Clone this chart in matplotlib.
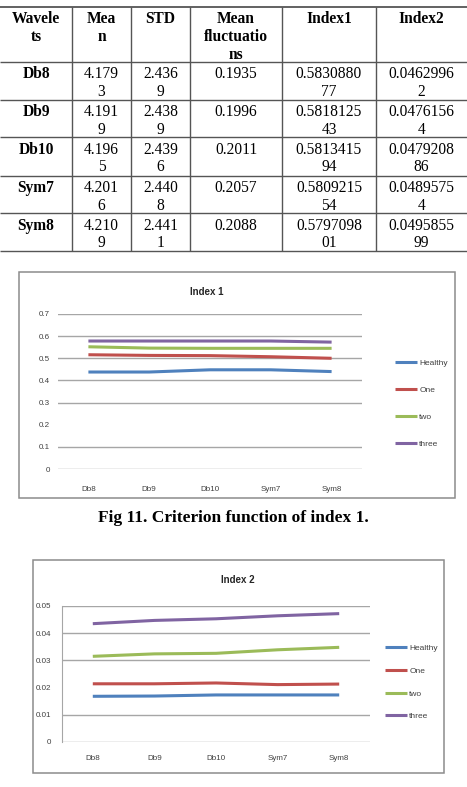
import matplotlib
matplotlib.use('Agg')
import matplotlib.pyplot as plt
from matplotlib.patches import Rectangle

# ---------------- data ----------------
wavelets = ['Db8', 'Db9', 'Db10', 'Sym7', 'Sym8']
mean_vals = ['4.1793', '4.1919', '4.1965', '4.2016', '4.2109']
std_vals = ['2.4369', '2.4389', '2.4396', '2.4408', '2.4411']
mean_fluct = ['0.1935', '0.1996', '0.2011', '0.2057', '0.2088']
index1_vals = ['0.583088077', '0.581812543', '0.581341594', '0.580921554', '0.579709801']
index2_vals = ['0.04629962', '0.04761564', '0.047920886', '0.04895754', '0.049585599']
headers = ['Wavele\nts', 'Mea\nn', 'STD', 'Mean\nfluctuatio\nns', 'Index1', 'Index2']
wrap_at = [None, 5, 5, None, 9, 9]

groups = ['Healthy', 'One', 'two', 'three']
colors = ['#4F81BD', '#C0504D', '#9BBB59', '#8064A2']

idx1_healthy = [0.438, 0.438, 0.448, 0.448, 0.440]
idx1_one = [0.516, 0.513, 0.512, 0.507, 0.500]
idx1_two = [0.552, 0.546, 0.545, 0.545, 0.545]
idx1_three = [0.578, 0.578, 0.578, 0.578, 0.573]

idx2_healthy = [0.0168, 0.0169, 0.0173, 0.0173, 0.0173]
idx2_one = [0.0214, 0.0214, 0.0217, 0.0211, 0.0213]
idx2_two = [0.0315, 0.0324, 0.0326, 0.0339, 0.0348]
idx2_three = [0.0435, 0.0447, 0.0453, 0.0464, 0.0472]

yticks1 = [0, 0.1, 0.2, 0.3, 0.4, 0.5, 0.6, 0.7]
grid1 = [0, 0.1, 0.3, 0.4, 0.5, 0.6, 0.7]
yticks2 = [0, 0.01, 0.02, 0.03, 0.04, 0.05]
grid2 = [0, 0.01, 0.03, 0.04, 0.05]

caption1 = 'Fig 11. Criterion function of index 1.'

# ---------------- figure ----------------
W, H = 467, 787
fig = plt.figure(figsize=(W / 100, H / 100), dpi=100)
bg = fig.add_axes([0, 0, 1, 1])
bg.set_xlim(0, W)
bg.set_ylim(H, 0)
bg.axis('off')

serif = ['Liberation Serif', 'DejaVu Serif']
sans = ['Liberation Sans Narrow', 'Liberation Sans', 'DejaVu Sans']

# ---- table ----
col_edges = [0, 72, 131, 190, 282, 376, 467]
row_edges = [7, 62, 100, 137, 176, 213, 251]
line_c = '#555555'
for y in row_edges:
    bg.plot([0, W], [y, y], color=line_c, lw=1.3 if y == 7 else 1.0, solid_capstyle='butt')
for x in col_edges[1:-1]:
    bg.plot([x, x], [7, 251], color=line_c, lw=1.0, solid_capstyle='butt')

def wrap(s, n):
    if n is None:
        return s
    return '\n'.join(s[i:i + n] for i in range(0, len(s), n))

tfs = 11.2
for j, htxt in enumerate(headers):
    cx = (col_edges[j] + col_edges[j + 1]) / 2
    bg.text(cx, row_edges[0] + 4, htxt, ha='center', va='top', fontsize=tfs,
            fontweight='bold', family=serif, linespacing=1.15)

columns = [wavelets, mean_vals, std_vals, mean_fluct, index1_vals, index2_vals]
for i in range(len(wavelets)):
    top = row_edges[i + 1]
    for j, col in enumerate(columns):
        cx = (col_edges[j] + col_edges[j + 1]) / 2
        bg.text(cx, top + 4.5, wrap(col[i], wrap_at[j]), ha='center', va='top',
                fontsize=tfs, family=serif, linespacing=1.15,
                fontweight='bold' if j == 0 else 'normal')

# ---- chart boxes ----
box_c = '#8c8c8c'
bg.add_patch(Rectangle((19, 272), 436, 226, fill=False, ec=box_c, lw=1.1))
bg.add_patch(Rectangle((33, 560), 411, 213, fill=False, ec=box_c, lw=1.1))

bg.text(207, 292, 'Index 1', ha='center', va='center', fontsize=7,
        fontweight='bold', family=sans, color='#262626')
bg.text(238, 580, 'Index 2', ha='center', va='center', fontsize=7,
        fontweight='bold', family=sans, color='#262626')
bg.text(W / 2, 518, caption1, ha='center', va='center', fontsize=12.5,
        fontweight='bold', family=serif)

grid_c = '#a6a6a6'
tick_c = '#404040'

def style(ax, yt, grid, ylim):
    x = list(range(len(wavelets)))
    ax.set_xlim(-0.5, len(wavelets) - 0.5)
    ax.set_ylim(*ylim)
    ax.set_facecolor('none')
    for g in grid:
        ax.axhline(g, color=grid_c, lw=1.0, zorder=0)
    ax.set_xticks(x)
    ax.set_xticklabels(wavelets)
    ax.set_yticks(yt)
    ax.set_yticklabels([f'{v:g}' for v in yt])
    for s in ax.spines.values():
        s.set_visible(False)
    ax.tick_params(length=0, labelsize=5.8, colors=tick_c)
    for lab in ax.get_xticklabels() + ax.get_yticklabels():
        lab.set_family(sans)
    return x

# ---- chart 1 ----
ax1 = fig.add_axes([58 / W, 1 - 469 / H, 304 / W, 155 / H])
x = style(ax1, yticks1, grid1, (0, 0.7))
ax1.tick_params(axis='x', pad=12)
ax1.tick_params(axis='y', pad=6)
for vals, c, name in zip([idx1_healthy, idx1_one, idx1_two, idx1_three], colors, groups):
    ax1.plot(x, vals, color=c, lw=2.2, label=name, solid_capstyle='butt')
leg1 = ax1.legend(loc='upper left', bbox_to_anchor=(395 / W, 1 - 359 / H),
                  bbox_transform=fig.transFigure, frameon=False,
                  handlelength=2.6, handletextpad=0.3, labelspacing=2.3,
                  borderpad=0, borderaxespad=0, prop={'family': sans, 'size': 6})
for t in leg1.get_texts():
    t.set_color(tick_c)

# ---- chart 2 ----
ax2 = fig.add_axes([62 / W, 1 - 742 / H, 308 / W, 136 / H])
x = style(ax2, yticks2, grid2, (0, 0.05))
ax2.spines['left'].set_visible(True)
ax2.spines['left'].set_color(grid_c)
ax2.tick_params(axis='x', pad=9)
ax2.tick_params(axis='y', pad=8)
for vals, c, name in zip([idx2_healthy, idx2_one, idx2_two, idx2_three], colors, groups):
    ax2.plot(x, vals, color=c, lw=2.2, label=name, solid_capstyle='butt')
leg2 = ax2.legend(loc='upper left', bbox_to_anchor=(385 / W, 1 - 644 / H),
                  bbox_transform=fig.transFigure, frameon=False,
                  handlelength=2.6, handletextpad=0.3, labelspacing=1.8,
                  borderpad=0, borderaxespad=0, prop={'family': sans, 'size': 6})
for t in leg2.get_texts():
    t.set_color(tick_c)

fig.savefig('out.png', dpi=100)
